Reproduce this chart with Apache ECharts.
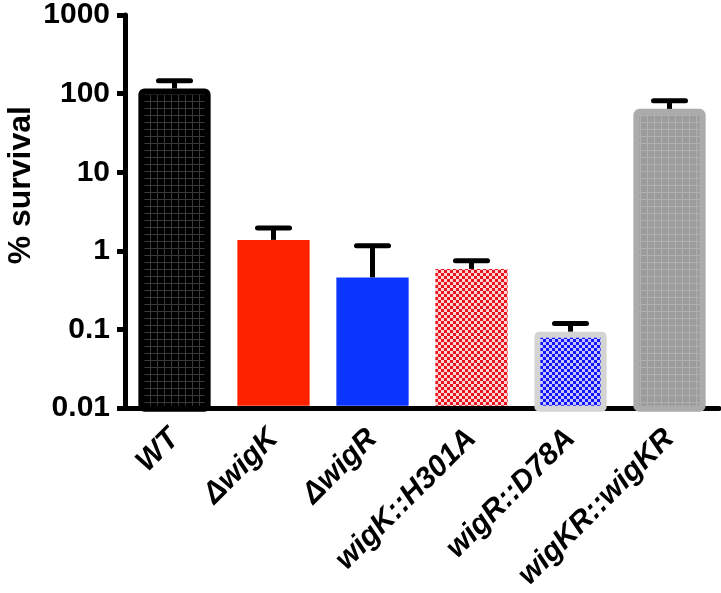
<!DOCTYPE html>
<html>
<head>
<meta charset="utf-8">
<script src="https://cdn.jsdelivr.net/npm/echarts@6/dist/echarts.min.js"></script>
<style>
html,body{margin:0;padding:0;background:#fff;}
#chart{width:721px;height:593px;}
</style>
</head>
<body>
<div id="chart"></div>
<script>
// ---- data ----
const categories = ['WT', 'ΔwigK', 'ΔwigR', 'wigK::H301A', 'wigR::D78A', 'wigKR::wigKR'];
const survival = [116, 1.38, 0.46, 0.59, 0.094, 64];
const errorTop = [146, 1.95, 1.16, 0.75, 0.119, 81];
const yTicks = [0.01, 0.1, 1, 10, 100, 1000];
const yMin = 0.01, yMax = 1000;
const yTitle = '% survival';

// ---- styles ----
function makePattern(w, h, draw) {
  const c = document.createElement('canvas');
  c.width = w; c.height = h;
  draw(c.getContext('2d'));
  return { image: c, repeat: 'repeat' };
}
const gridBlack = makePattern(7, 7, ctx => {
  ctx.fillStyle = '#000'; ctx.fillRect(0, 0, 7, 7);
  ctx.fillStyle = '#3a3a3a'; ctx.fillRect(3, 0, 1, 7); ctx.fillRect(0, 3, 7, 1);
});
const gridGray = makePattern(7, 7, ctx => {
  ctx.fillStyle = '#9c9c9c'; ctx.fillRect(0, 0, 7, 7);
  ctx.fillStyle = '#b0b0b0'; ctx.fillRect(3, 0, 1, 7); ctx.fillRect(0, 3, 7, 1);
});
const checkRed = makePattern(6, 6, ctx => {
  ctx.fillStyle = '#ffd4d4'; ctx.fillRect(0, 0, 6, 6);
  ctx.fillStyle = '#e8141e'; ctx.fillRect(0, 0, 3, 3); ctx.fillRect(3, 3, 3, 3);
});
const checkBlue = makePattern(6, 6, ctx => {
  ctx.fillStyle = '#c4c4ff'; ctx.fillRect(0, 0, 6, 6);
  ctx.fillStyle = '#1414ff'; ctx.fillRect(0, 0, 3, 3); ctx.fillRect(3, 3, 3, 3);
});
const barStyles = [
  { fill: gridBlack, stroke: '#000000', lw: 6, r: 3 },
  { fill: '#ff2200', stroke: '#ff2200', lw: 0, r: 0 },
  { fill: '#0a36ff', stroke: '#0a36ff', lw: 0, r: 0 },
  { fill: checkRed, stroke: null, lw: 0, r: 0 },
  { fill: checkBlue, stroke: '#d4d4d4', lw: 6, r: 2 },
  { fill: gridGray, stroke: '#ababab', lw: 6, r: 3 }
];

const FONT = '"Liberation Sans", Arial, Helvetica, sans-serif';

function renderItem(params, api) {
  const i = api.value(0);
  const v = api.value(1);
  const e = api.value(2);
  const top = api.coord([i, v]);
  const base = api.coord([i, yMin]);
  const et = api.coord([i, e]);
  const bw = api.size([1, 0])[0] * 0.73;
  const st = barStyles[i];
  const bottom = base[1] - 2.5;
  const half = st.lw / 2;
  const children = [];
  children.push({
    type: 'rect',
    shape: { x: top[0] - bw / 2 + half, y: top[1] + half, width: bw - st.lw, height: bottom - top[1] - half + (st.lw ? 3 : 0), r: st.r },
    style: { fill: st.fill, stroke: st.lw ? st.stroke : null, lineWidth: st.lw }
  });
  children.push({
    type: 'line',
    shape: { x1: top[0], y1: top[1], x2: top[0], y2: et[1] },
    style: { stroke: '#000', lineWidth: 5 }
  });
  children.push({
    type: 'line',
    shape: { x1: top[0] - 16, y1: et[1], x2: top[0] + 16, y2: et[1] },
    style: { stroke: '#000', lineWidth: 5, lineCap: 'round' }
  });
  return { type: 'group', children: children };
}

const chart = echarts.init(document.getElementById('chart'), null, { renderer: 'canvas' });
chart.setOption({
  backgroundColor: '#ffffff',
  animation: false,
  grid: { left: 125, right: 2, top: 13, bottom: 184, containLabel: false },
  graphic: [{
    type: 'text',
    left: 5,
    top: 106,
    rotation: Math.PI / 2,
    style: {
      text: yTitle,
      fill: '#000',
      font: 'bold 32px "Liberation Sans", Arial, sans-serif'
    }
  }],
  xAxis: {
    type: 'category',
    data: categories,
    axisLine: { lineStyle: { color: '#000', width: 5 } },
    axisTick: { alignWithLabel: true, length: 9, lineStyle: { color: '#000', width: 5 } },
    axisLabel: {
      interval: 0,
      rotate: 45,
      margin: 26,
      color: '#000',
      fontFamily: FONT,
      fontSize: 30,
      fontWeight: 'bold',
      fontStyle: 'italic'
    }
  },
  yAxis: {
    type: 'log',
    logBase: 10,
    min: yMin,
    max: yMax,
    splitLine: { show: false },
    minorTick: { show: false },
    axisLine: { show: true, lineStyle: { color: '#000', width: 5 } },
    axisTick: { show: true, length: 8, lineStyle: { color: '#000', width: 5 } },
    axisLabel: {
      margin: 15,
      color: '#000',
      fontFamily: FONT,
      fontSize: 30,
      fontWeight: 'bold',
      formatter: function (val) {
        for (const t of yTicks) {
          if (Math.abs(Math.log10(val) - Math.log10(t)) < 1e-6) return String(t);
        }
        return '';
      }
    }
  },
  series: [{
    type: 'custom',
    renderItem: renderItem,
    encode: { x: 0, y: 1 },
    clip: false,
    data: categories.map((c, i) => [i, survival[i], errorTop[i]])
  }]
});
</script>
</body>
</html>
